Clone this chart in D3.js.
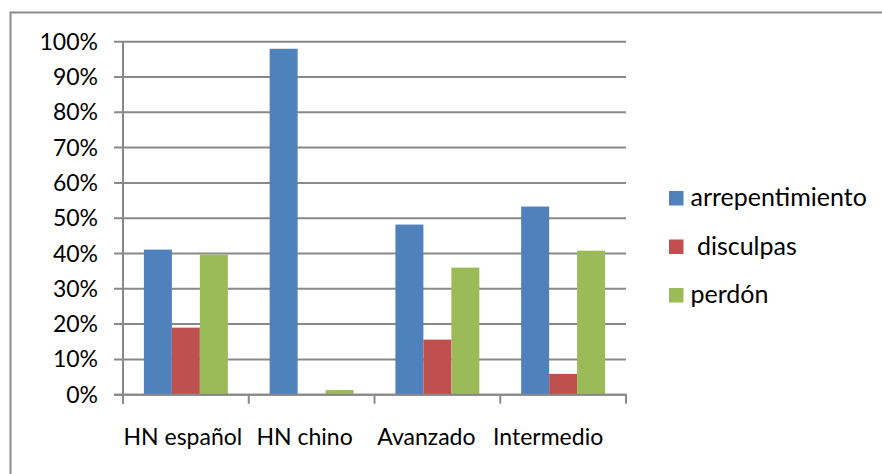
<!DOCTYPE html>
<html>
<head>
<meta charset="utf-8">
<script src="https://cdn.jsdelivr.net/npm/d3@7"></script>
<style>
  body { margin: 0; background: #fff; }
  text { font-family: Lato, "Open Sans", sans-serif; fill: #000; }
</style>
</head>
<body>
<script>
// categories and series (in %)
const categories = ["HN español", "HN chino", "Avanzado", "Intermedio"];
const seriesNames = ["arrepentimiento", " disculpas", "perdón"];
const arrepentimiento = [41.1, 98.0, 48.2, 53.3];
const disculpas = [19.0, 0, 15.6, 5.9];
const perdon = [39.7, 1.3, 36.0, 40.8];
const yTicks = [0, 10, 20, 30, 40, 50, 60, 70, 80, 90, 100];
const colors = ["#4F81BD", "#C0504D", "#9BBB59"];

const allSeries = [arrepentimiento, disculpas, perdon];

var width = 882, height = 474;
var plot = { left: 123, right: 626, top: 41.7, bottom: 394.7 };
var fontSize = 23;

var svg = d3.select("body").append("svg")
  .attr("width", width)
  .attr("height", height);

// outer chart border
svg.append("rect")
  .attr("x", 10.5).attr("y", 12.5)
  .attr("width", width + 20).attr("height", height + 20)
  .attr("fill", "none")
  .attr("stroke", "#8c8c8c")
  .attr("stroke-width", 2);

// scales
var xScale = d3.scaleBand().domain(categories).range([plot.left, plot.right]).paddingInner(0).paddingOuter(0);
var inner = d3.scaleBand().domain(d3.range(3)).range([20.9, xScale.bandwidth() - 20.9]);
var yScale = d3.scaleLinear().domain([0, 100]).range([plot.bottom, plot.top]);
// Excel places the category labels a bit to the left of the band centres
var labelScale = d3.scaleBand().domain(categories).range([122, 609]);

// gridlines
svg.append("g")
  .selectAll("line")
  .data(yTicks)
  .enter()
  .append("line")
  .attr("x1", plot.left - 9)
  .attr("x2", plot.right)
  .attr("y1", (d) => yScale(d))
  .attr("y2", (d) => yScale(d))
  .attr("stroke", "#898989")
  .attr("stroke-width", 2);

// y axis labels
svg.append("g")
  .selectAll("text")
  .data(yTicks)
  .enter()
  .append("text")
  .attr("x", 98)
  .attr("y", (d) => yScale(d) + 8)
  .attr("text-anchor", "end")
  .attr("font-size", fontSize)
  .text((d) => d + "%");

// bars
var groups = svg.append("g")
  .selectAll("g")
  .data(categories)
  .enter()
  .append("g")
  .attr("transform", (d) => "translate(" + xScale(d) + ",0)");

groups.selectAll("rect")
  .data((d, i) => allSeries.map((s, j) => ({ j: j, v: s[i] })))
  .enter()
  .append("rect")
  .attr("x", (d) => inner(d.j))
  .attr("width", inner.bandwidth())
  .attr("y", (d) => yScale(d.v))
  .attr("height", (d) => yScale(0) - yScale(d.v))
  .attr("fill", (d) => colors[d.j]);

// axes lines
svg.append("line")
  .attr("x1", plot.left).attr("x2", plot.left)
  .attr("y1", plot.top).attr("y2", plot.bottom + 9)
  .attr("stroke", "#898989").attr("stroke-width", 2);

svg.append("line")
  .attr("x1", plot.left - 9).attr("x2", plot.right + 1)
  .attr("y1", plot.bottom).attr("y2", plot.bottom)
  .attr("stroke", "#898989").attr("stroke-width", 2);

// category ticks
svg.append("g")
  .selectAll("line")
  .data(categories.concat(["end"]))
  .enter()
  .append("line")
  .attr("x1", (d, i) => plot.left + i * xScale.bandwidth())
  .attr("x2", (d, i) => plot.left + i * xScale.bandwidth())
  .attr("y1", plot.bottom)
  .attr("y2", plot.bottom + 9)
  .attr("stroke", "#898989")
  .attr("stroke-width", 2);

// category labels
svg.append("g")
  .selectAll("text")
  .data(categories)
  .enter()
  .append("text")
  .attr("x", (d) => labelScale(d) + labelScale.bandwidth() / 2)
  .attr("y", 445)
  .attr("text-anchor", "middle")
  .attr("font-size", fontSize)
  .text((d) => d);

// legend
var legend = svg.append("g")
  .selectAll("g")
  .data(seriesNames)
  .enter()
  .append("g")
  .attr("transform", (d, i) => "translate(669," + (191 + i * 48.5) + ")");

legend.append("rect")
  .attr("width", 14.5)
  .attr("height", 14.5)
  .attr("fill", (d, i) => colors[i]);

legend.append("text")
  .attr("x", 21.5)
  .attr("y", 15)
  .attr("font-size", 25)
  .attr("xml:space", "preserve")
  .style("white-space", "pre")
  .text((d) => d);
</script>
</body>
</html>
